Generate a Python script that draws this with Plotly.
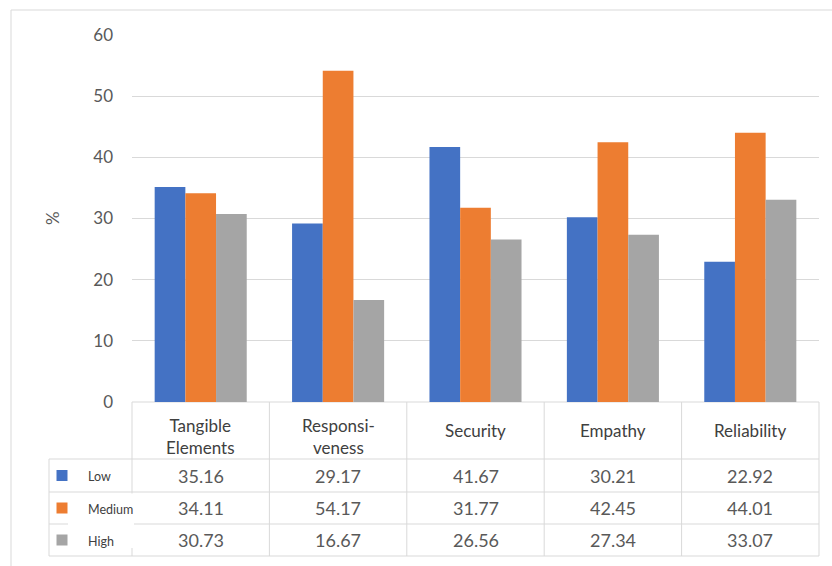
import plotly.graph_objects as go

# ---- data ----
categories = ["Tangible<br>Elements", "Responsi-<br>veness", "Security", "Empathy", "Reliability"]
series_names = ["Low", "Medium", "High"]
low = [35.16, 29.17, 41.67, 30.21, 22.92]
medium = [34.11, 54.17, 31.77, 42.45, 44.01]
high = [30.73, 16.67, 26.56, 27.34, 33.07]
colors = ["#4472C4", "#ED7D31", "#A5A5A5"]
y_ticks = [0, 10, 20, 30, 40, 50, 60]
y_title = "%"

series = [low, medium, high]

# ---- layout geometry (pixels) ----
W, H = 832, 566
PL, PR, PT, PB = 132, 819, 35, 402          # plot area
ROWS = [402, 459, 492, 524, 556]             # table row edges (header + 3 rows)
LEG_L = 49                                   # legend column left edge
GRID = "#D9D9D9"
FONT = "Lato"


def px(x):
    return (x - PL) / (PR - PL)


def py(y):
    return (PB - y) / (PB - PT)


n = len(categories)
fig = go.Figure()
for name, vals, col in zip(series_names, series, colors):
    fig.add_trace(go.Bar(x=list(range(n)), y=vals, name=name, marker=dict(color=col, line=dict(width=0)),
                         showlegend=False))

shapes = []
# outer chart border
shapes.append(dict(type="rect", xref="paper", yref="paper", x0=px(11), x1=px(845), y0=py(10), y1=py(590),
                   line=dict(color=GRID, width=1), fillcolor="rgba(0,0,0,0)", layer="below"))
# table vertical lines at category boundaries
for i in range(n + 1):
    shapes.append(dict(type="line", xref="paper", yref="paper", x0=i / n, x1=i / n,
                       y0=py(ROWS[0]), y1=py(ROWS[-1]), line=dict(color=GRID, width=1), layer="below"))
# legend column left edge
shapes.append(dict(type="line", xref="paper", yref="paper", x0=px(LEG_L), x1=px(LEG_L),
                   y0=py(ROWS[1]), y1=py(ROWS[-1]), line=dict(color=GRID, width=1), layer="below"))
# horizontal lines
shapes.append(dict(type="line", xref="paper", yref="paper", x0=0, x1=1, y0=py(ROWS[0]), y1=py(ROWS[0]),
                   line=dict(color=GRID, width=1), layer="below"))
for r in ROWS[1:]:
    shapes.append(dict(type="line", xref="paper", yref="paper", x0=px(LEG_L), x1=1, y0=py(r), y1=py(r),
                       line=dict(color=GRID, width=1), layer="below"))
# white label box covering lines behind Medium/High labels (as in the original)
shapes.append(dict(type="rect", xref="paper", yref="paper", x0=px(68), x1=px(134), y0=py(493.5), y1=py(548),
                   line=dict(width=0), fillcolor="white", layer="below"))
# legend swatches
for k, col in enumerate(colors):
    cy = (ROWS[k + 1] + ROWS[k + 2]) / 2
    shapes.append(dict(type="rect", xref="paper", yref="paper", x0=px(56.5), x1=px(67.5),
                       y0=py(cy - 5.5), y1=py(cy + 5.5), line=dict(width=0), fillcolor=col, layer="below"))

annotations = []
# category header labels
header_y = (ROWS[0] + ROWS[1]) / 2
for i, c in enumerate(categories):
    two = "<br>" in c
    annotations.append(dict(x=i, xref="x", y=py(header_y + (6 if two else 0)), yref="paper", text=c,
                            showarrow=False, xanchor="center", yanchor="middle",
                            font=dict(family=FONT, size=17, color="#404040")))
# values
for k, vals in enumerate(series):
    cy = (ROWS[k + 1] + ROWS[k + 2]) / 2
    for i, v in enumerate(vals):
        annotations.append(dict(x=i, xref="x", y=py(cy), yref="paper", text=f"{v:.2f}", showarrow=False,
                                xanchor="center", yanchor="middle",
                                font=dict(family=FONT, size=18, color="#595959")))
    annotations.append(dict(x=px(86), xref="paper", y=py(cy + 1), yref="paper", text=series_names[k],
                            showarrow=False, xanchor="left", yanchor="middle",
                            font=dict(family=FONT, size=12.5, color="#404040")))
# y-axis title
annotations.append(dict(x=px(52), xref="paper", y=py(218), yref="paper", text=y_title, textangle=-90,
                        showarrow=False, xanchor="center", yanchor="middle",
                        font=dict(family=FONT, size=17, color="#595959")))

fig.update_layout(
    width=W, height=H,
    margin=dict(l=PL, r=W - PR, t=PT, b=H - PB, pad=0),
    paper_bgcolor="white", plot_bgcolor="white",
    barmode="group", bargap=0.33, bargroupgap=0,
    xaxis=dict(range=[-0.5, n - 0.5], showticklabels=False, showgrid=False, zeroline=False,
               showline=False, fixedrange=True),
    yaxis=dict(range=[0, 60], tickvals=y_ticks, showgrid=True, gridcolor=GRID, gridwidth=1,
               zeroline=False, showline=False, ticklabelstandoff=18,
               tickfont=dict(family=FONT, size=17, color="#595959"), fixedrange=True),
    shapes=shapes,
    annotations=annotations,
    font=dict(family=FONT),
)

fig.write_html("out.html")
